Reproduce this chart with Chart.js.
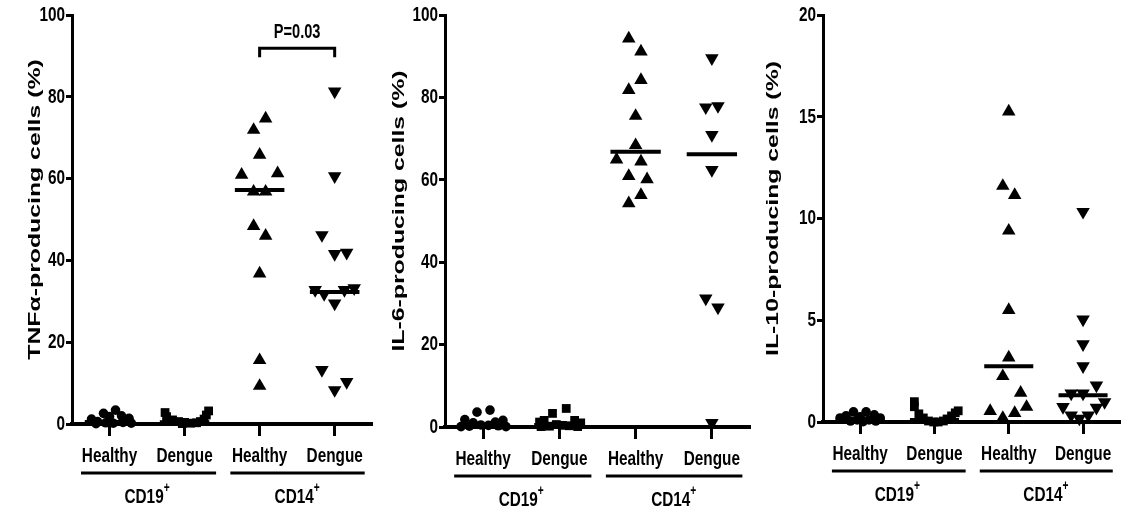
<!DOCTYPE html>
<html lang="en">
<head>
<meta charset="UTF-8" />
<title>Cytokine-producing cells</title>
<script src="https://cdn.jsdelivr.net/npm/chart.js"></script>
<style>
  body { margin: 0; background: #fff; }
  .panel { position: absolute; top: 0; height: 512px; }
</style>
</head>
<body>
<div class="panel" style="left:0;width:380px"><canvas id="tnfChart" width="380" height="512"></canvas></div>
<div class="panel" style="left:380px;width:380px"><canvas id="il6Chart" width="380" height="512"></canvas></div>
<div class="panel" style="left:760px;width:368px"><canvas id="il10Chart" width="368" height="512"></canvas></div>

<script>
const categoryLabels = ['Healthy', 'Dengue', 'Healthy', 'Dengue']
const groupLabels = ['CD19', 'CD14']

// TNF-alpha (%), x = jitter around each category (category units)
const tnfCd19Healthy = [3.4, 2.6, 2.0, 1.8, 1.4, 1.2, 0.6, 0.4, 0.3, 0.2, 0.1, 0.2]
const tnfCd19HealthyX = [0.08, -0.08, 0.16, 0, 0.26, -0.24, -0.16, 0.18, -0.05, 0.05, -0.18, 0.29]
const tnfCd19Dengue = [2.8, 1.8, 1.0, 0.6, 0.4, 0.2, 0.3, 0.6, 1.2, 2.2, 3.2, 0.1]
const tnfCd19DengueX = [-0.26, -0.24, -0.16, -0.08, 0, 0.08, 0.16, 0.21, 0.26, 0.29, 0.32, -0.03]
const tnfCd14Healthy = [74.7, 71.9, 65.8, 60.9, 61.3, 56.8, 56.8, 48.4, 46.0, 36.8, 15.6, 9.3]
const tnfCd14HealthyX = [0.08, -0.08, 0, -0.24, 0.24, -0.08, 0.08, -0.08, 0.08, 0, 0, 0]
const tnfCd14Dengue = [81.3, 60.6, 46.2, 41.6, 41.9, 32.8, 31.8, 29.5, 32.8, 33.2, 13.2, 8.3, 10.3]
const tnfCd14DengueX = [0, 0, -0.17, 0, 0.16, -0.26, -0.14, 0, 0.13, 0.26, -0.17, 0, 0.16]
const tnfMedians = [0.5, 0.4, 57.2, 32.3]
const tnfBracket = [89.7, 91.9]
const tnfPValue = 'P=0.03'

// IL-6 (%)
const il6Cd19Healthy = [4.1, 3.6, 1.8, 1.6, 1.0, 1.2, 0.5, 0.4, 0.2, 0.3, 0.1, 0.1]
const il6Cd19HealthyX = [0.09, -0.08, -0.24, 0.26, -0.13, 0.16, -0.03, 0.07, -0.18, 0.2, -0.29, 0.3]
const il6Cd19Dengue = [4.5, 3.3, 1.6, 1.6, 1.2, 1.0, 0.6, 0.4, 0.2, 0.3, 0.1, 0.1]
const il6Cd19DengueX = [0.09, -0.09, -0.2, 0.2, -0.26, 0.28, -0.04, 0.04, -0.13, 0.13, -0.24, 0.24]
const il6Cd14Healthy = [94.3, 91.1, 84.2, 81.8, 75.5, 68.4, 64.9, 64.4, 60.9, 60.1, 56.3, 54.3]
const il6Cd14HealthyX = [-0.09, 0.07, 0.07, -0.09, 0, 0, -0.25, 0.07, -0.09, 0.15, 0.07, -0.09]
const il6Cd14Dengue = [89.5, 77.6, 77.9, 70.9, 62.4, 31.2, 29.0, 1.0]
const il6Cd14DengueX = [0, -0.08, 0.08, 0, 0, -0.08, 0.08, 0]
const il6Medians = [0.5, 0.5, 66.8, 66.2]

// IL-10 (%)
const il10Cd19Healthy = [0.5, 0.5, 0.35, 0.3, 0.25, 0.2, 0.2, 0.1, 0.1, 0.05, 0.05, 0.02]
const il10Cd19HealthyX = [-0.09, 0.08, 0.19, -0.19, 0, -0.27, 0.27, -0.04, 0.12, -0.13, 0.21, 0.04]
const il10Cd19Dengue = [1.0, 0.75, 0.4, 0.2, 0.05, 0, 0, 0.05, 0.15, 0.3, 0.45, 0.55]
const il10Cd19DengueX = [-0.27, -0.27, -0.21, -0.15, -0.08, -0.01, 0.05, 0.12, 0.17, 0.23, 0.28, 0.32]
const il10Cd14Healthy = [15.25, 11.6, 11.15, 9.4, 5.5, 3.17, 2.25, 1.43, 0.54, 0.74, 0.2, 0.44]
const il10Cd14HealthyX = [0, -0.08, 0.08, 0, 0, 0, -0.08, 0.16, -0.25, 0.24, -0.08, 0.08]
const il10Cd14Dengue = [10.33, 5.04, 3.82, 2.74, 1.8, 1.4, 1.4, 0.74, 0.98, 0.7, 0.33, 0.17, 0.33]
const il10Cd14DengueX = [0, 0, 0, 0, 0.18, -0.16, 0, -0.27, 0.29, 0.18, -0.16, -0.05, 0.07]
const il10Medians = [0.1, 0.1, 2.74, 1.31]

const baseFont = "'Liberation Sans', Arial, sans-serif"
const squeeze = 0.73 // narrow look of the tick / group labels

const markerStyles = [
  { pointStyle: 'circle', radius: 4.8, rotation: 0 },
  { pointStyle: 'rect', radius: 6.2, rotation: 0 },
  { pointStyle: 'triangle', radius: 7.8, rotation: 0 },
  { pointStyle: 'triangle', radius: 7.8, rotation: 180 },
]

// condensed bold text (canvas scaled horizontally)
function narrowText(ctx, text, x, y, size, align) {
  ctx.save()
  ctx.font = 'bold ' + size + 'px ' + baseFont
  const w = ctx.measureText(text).width * squeeze
  const left = align === 'right' ? x - w : align === 'center' ? x - w / 2 : x
  ctx.translate(left, y)
  ctx.scale(squeeze, 1)
  ctx.textAlign = 'left'
  ctx.textBaseline = 'middle'
  ctx.fillText(text, 0, 0)
  ctx.restore()
  return w
}

// tick labels, y title, group underlines/labels and the P label
const decorPlugin = {
  id: 'decor',
  afterDraw(chart, args, opts) {
    const { ctx, chartArea, scales } = chart
    const xs = scales.x
    const ys = scales.y
    ctx.save()
    ctx.fillStyle = '#000'
    ctx.strokeStyle = '#000'

    ys.ticks.forEach((t) => {
      narrowText(ctx, String(t.value), chartArea.left - 7, ys.getPixelForValue(t.value), 21, 'right')
    })
    xs.ticks.forEach((t) => {
      narrowText(ctx, categoryLabels[Math.round(t.value) - 1], xs.getPixelForValue(t.value), chartArea.bottom + 32, 21, 'center')
    })

    // y axis title, stretched along its length
    ctx.save()
    ctx.translate(opts.titleX, (chartArea.top + chartArea.bottom) / 2 - 10)
    ctx.rotate(-Math.PI / 2)
    ctx.scale(1.55, 1)
    ctx.font = 'bold 16px ' + baseFont
    ctx.textAlign = 'center'
    ctx.textBaseline = 'middle'
    ctx.fillText(opts.title, 0, 0)
    ctx.restore()

    // group underlines and labels
    const spans = [[0.62, 2.42], [2.61, 4.4]]
    ctx.lineWidth = 3
    groupLabels.forEach((label, i) => {
      const y = chartArea.bottom + 49
      ctx.beginPath()
      ctx.moveTo(xs.getPixelForValue(spans[i][0]), y)
      ctx.lineTo(xs.getPixelForValue(spans[i][1]), y)
      ctx.stroke()
      const cx = xs.getPixelForValue(i * 2 + 1.5)
      ctx.font = 'bold 21px ' + baseFont
      const w = ctx.measureText(label).width * squeeze
      ctx.font = 'bold 14px ' + baseFont
      const wp = ctx.measureText('+').width * squeeze
      const left = cx - (w + wp) / 2
      narrowText(ctx, label, left, chartArea.bottom + 73, 21, 'left')
      narrowText(ctx, '+', left + w, chartArea.bottom + 64, 14, 'left')
    })

    if (opts.pText) {
      narrowText(ctx, opts.pText, xs.getPixelForValue(3.5), ys.getPixelForValue(opts.pAt) - 16, 20, 'center')
    }
    ctx.restore()
  },
}

function buildPanel(id, cfg) {
  const groups = cfg.groups
  const datasets = groups.map((g, i) => ({
    data: g.values.map((v, j) => ({ x: i + 1 + g.jitter[j], y: v })),
    pointStyle: markerStyles[i].pointStyle,
    rotation: markerStyles[i].rotation,
    pointRadius: markerStyles[i].radius,
    backgroundColor: '#000',
    borderColor: '#000',
    borderWidth: 0,
    clip: false,
  }))
  cfg.medians.forEach((m, i) => {
    datasets.push({
      data: [{ x: i + 1 - 0.33, y: m }, { x: i + 1 + 0.33, y: m }],
      showLine: true,
      pointRadius: 0,
      borderColor: '#000',
      borderWidth: 4,
      clip: false,
    })
  })
  if (cfg.bracket) {
    const [foot, top] = cfg.bracket
    datasets.push({
      data: [{ x: 3, y: foot }, { x: 3, y: top }, { x: 4, y: top }, { x: 4, y: foot }],
      showLine: true,
      pointRadius: 0,
      borderColor: '#000',
      borderWidth: 3,
      clip: false,
    })
  }

  new Chart(document.getElementById(id), {
    type: 'scatter',
    data: { datasets },
    plugins: [decorPlugin],
    options: {
      responsive: false,
      animation: false,
      layout: { padding: { top: 15, right: cfg.padRight, bottom: 0, left: 0 } },
      plugins: {
        legend: { display: false },
        tooltip: { enabled: false },
        decor: { title: cfg.title, titleX: cfg.titleX, pText: cfg.pText, pAt: cfg.bracket ? cfg.bracket[1] : 0 },
      },
      scales: {
        x: {
          type: 'linear',
          min: 0.5,
          max: 4.5,
          afterBuildTicks: (s) => { s.ticks = categoryLabels.map((_, i) => ({ value: i + 1 })) },
          afterFit: (s) => { s.height = cfg.xHeight },
          border: { color: '#000', width: 4 },
          grid: { drawOnChartArea: false, drawTicks: true, tickLength: 12, tickWidth: 3, tickColor: '#000' },
          ticks: { display: false },
        },
        y: {
          min: 0,
          max: cfg.yMax,
          afterFit: (s) => { s.width = cfg.yWidth },
          border: { color: '#000', width: 3 },
          grid: { drawOnChartArea: false, drawTicks: true, tickLength: 6, tickWidth: 3, tickColor: '#000' },
          ticks: { display: false, stepSize: cfg.yStep },
        },
      },
    },
  })
}

buildPanel('tnfChart', {
  title: 'TNFα-producing cells (%)',
  titleX: 36, yWidth: 72, padRight: 4, xHeight: 88, yMax: 100, yStep: 20,
  groups: [
    { values: tnfCd19Healthy, jitter: tnfCd19HealthyX },
    { values: tnfCd19Dengue, jitter: tnfCd19DengueX },
    { values: tnfCd14Healthy, jitter: tnfCd14HealthyX },
    { values: tnfCd14Dengue, jitter: tnfCd14DengueX },
  ],
  medians: tnfMedians,
  bracket: tnfBracket,
  pText: tnfPValue,
})

buildPanel('il6Chart', {
  title: 'IL-6-producing cells (%)',
  titleX: 20, yWidth: 65, padRight: 10, xHeight: 85, yMax: 100, yStep: 20,
  groups: [
    { values: il6Cd19Healthy, jitter: il6Cd19HealthyX },
    { values: il6Cd19Dengue, jitter: il6Cd19DengueX },
    { values: il6Cd14Healthy, jitter: il6Cd14HealthyX },
    { values: il6Cd14Dengue, jitter: il6Cd14DengueX },
  ],
  medians: il6Medians,
})

buildPanel('il10Chart', {
  title: 'IL-10-producing cells (%)',
  titleX: 14, yWidth: 63, padRight: 5, xHeight: 90, yMax: 20, yStep: 5,
  groups: [
    { values: il10Cd19Healthy, jitter: il10Cd19HealthyX },
    { values: il10Cd19Dengue, jitter: il10Cd19DengueX },
    { values: il10Cd14Healthy, jitter: il10Cd14HealthyX },
    { values: il10Cd14Dengue, jitter: il10Cd14DengueX },
  ],
  medians: il10Medians,
})
</script>
</body>
</html>
